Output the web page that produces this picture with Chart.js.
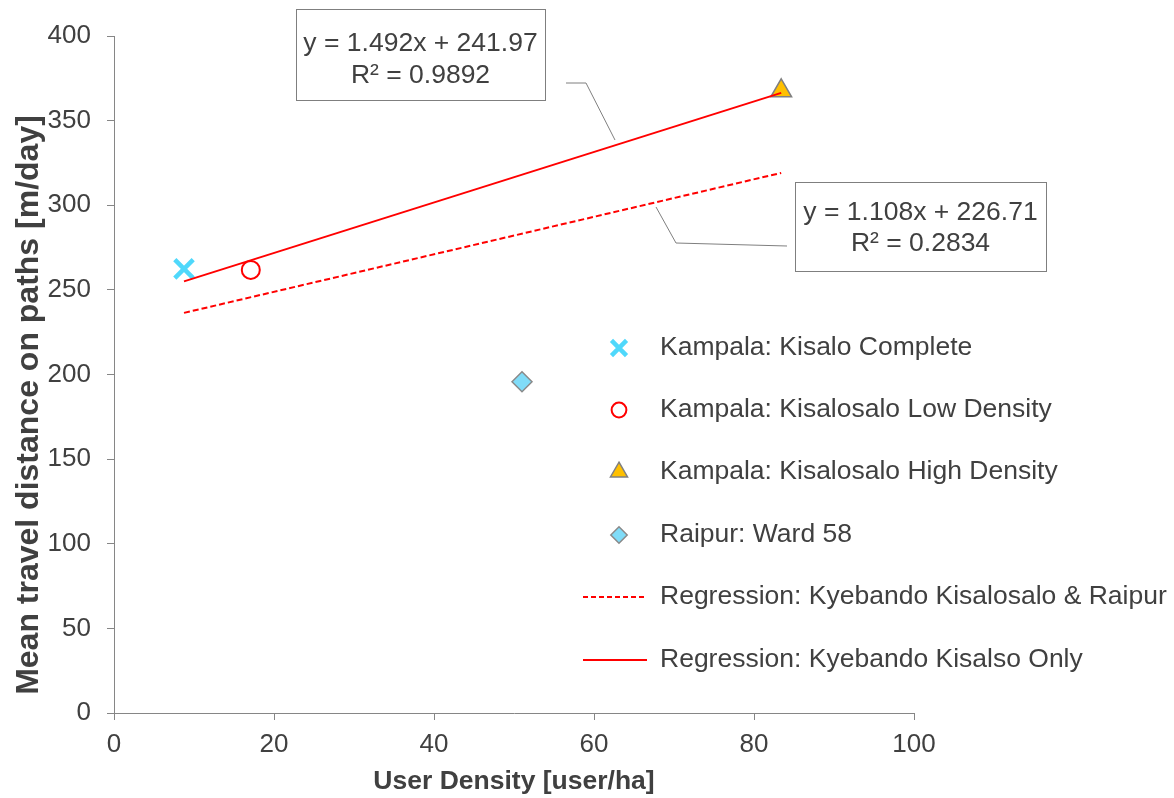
<!DOCTYPE html>
<html>
<head>
<meta charset="utf-8">
<script src="https://cdn.jsdelivr.net/npm/chart.js@4.4.1/dist/chart.umd.min.js"></script>
<style>
    html, body { margin: 0; padding: 0; background: #ffffff; }
    #wrap { width: 1174px; height: 798px; position: relative; }
</style>
</head>
<body>
<div id="wrap"><canvas id="densityChart"></canvas></div>
<script>
/* ================================
   Data
================================ */
const seriesNames = [
    "Kampala: Kisalo Complete",
    "Kampala: Kisalosalo Low Density",
    "Kampala: Kisalosalo High Density",
    "Raipur: Ward 58",
    "Regression: Kyebando Kisalosalo & Raipur",
    "Regression: Kyebando Kisalso Only"
];
const pointX = [8.75, 17.1, 83.4, 51.0];
const pointY = [262.4, 261.8, 367.6, 195.7];
const lineX = [8.75, 83.4];
const dashedY = [236.4, 319.1];
const solidY = [255.0, 366.4];
const xTicks = [0, 20, 40, 60, 80, 100];
const yTicks = [0, 50, 100, 150, 200, 250, 300, 350, 400];
const equationTexts = [
    ["y = 1.492x + 241.97", "R² = 0.9892"],
    ["y = 1.108x + 226.71", "R² = 0.2834"]
];
const yTitle = "Mean travel distance on paths [m/day]";
const xTitle = "User Density [user/ha]";

const TEXT = "#404040";
const AXIS = "#868686";
const FONT = "'Liberation Sans', Arial, sans-serif";

/* ================================
   Point / line styles
================================ */
const markerStyles = [
    { pointStyle: "crossRot", radius: 13, borderColor: "#4fd8fb", backgroundColor: "#4fd8fb", borderWidth: 4.5 },
    { pointStyle: "circle", radius: 9, borderColor: "#ff0000", backgroundColor: "rgba(255,255,255,0)", borderWidth: 2 },
    { pointStyle: "triangle", radius: 12, borderColor: "#808080", backgroundColor: "#ffc000", borderWidth: 1.5 },
    { pointStyle: "rectRot", radius: 10, borderColor: "#8a8a8a", backgroundColor: "#80dcf8", borderWidth: 1.5 }
];

function pointDataset(i) {
    const s = markerStyles[i];
    return {
        label: seriesNames[i],
        data: [{ x: pointX[i], y: pointY[i] }],
        pointStyle: s.pointStyle,
        pointRadius: s.radius,
        pointBorderColor: s.borderColor,
        pointBackgroundColor: s.backgroundColor,
        pointBorderWidth: s.borderWidth,
        showLine: false,
        order: 1
    };
}

function lineDataset(i, ys, dash) {
    return {
        label: seriesNames[i],
        data: lineX.map(function (x, k) { return { x: x, y: ys[k] }; }),
        showLine: true,
        borderColor: "#ff0000",
        borderWidth: 2,
        borderDash: dash,
        pointRadius: 0,
        fill: false,
        order: 0
    };
}

/* ================================
   Legend drawn at the right side
================================ */
const sideLegend = {
    id: "sideLegend",
    afterDraw: function (chart) {
        const ctx = chart.ctx;
        const rowY = [348, 410, 472, 535, 597, 660];
        ctx.save();
        for (let i = 0; i < seriesNames.length; i++) {
            const y = rowY[i];
            if (i < 4) {
                const s = markerStyles[i];
                ctx.fillStyle = s.backgroundColor;
                ctx.strokeStyle = s.borderColor;
                ctx.lineWidth = s.borderWidth;
                Chart.helpers.drawPoint(ctx, {
                    pointStyle: s.pointStyle,
                    radius: s.radius * 0.82,
                    borderWidth: s.borderWidth,
                    rotation: 0
                }, 619, y);
            } else {
                ctx.strokeStyle = "#ff0000";
                ctx.lineWidth = 2;
                ctx.setLineDash(i === 4 ? [5, 3] : []);
                ctx.beginPath();
                ctx.moveTo(583, y);
                ctx.lineTo(647, y);
                ctx.stroke();
                ctx.setLineDash([]);
            }
            ctx.fillStyle = TEXT;
            ctx.font = "26.5px " + FONT;
            ctx.textAlign = "left";
            ctx.textBaseline = "middle";
            ctx.fillText(seriesNames[i], 660, y);
        }
        ctx.restore();
    }
};

/* ================================
   Trendline equation boxes
================================ */
const equationBoxes = {
    id: "equationBoxes",
    afterDraw: function (chart) {
        const ctx = chart.ctx;
        const boxes = [
            { x: 296, y: 9, w: 249, h: 91, rows: [44, 76], leader: [[566, 83], [586, 83], [615, 140]] },
            { x: 795, y: 182, w: 251, h: 89, rows: [213, 244], leader: [[656, 207], [676, 243], [787, 246]] }
        ];
        ctx.save();
        boxes.forEach(function (b, i) {
            ctx.strokeStyle = "#7f7f7f";
            ctx.lineWidth = 1;
            ctx.beginPath();
            ctx.moveTo(b.leader[0][0], b.leader[0][1]);
            for (let k = 1; k < b.leader.length; k++) {
                ctx.lineTo(b.leader[k][0], b.leader[k][1]);
            }
            ctx.stroke();

            ctx.fillStyle = "#ffffff";
            ctx.fillRect(b.x, b.y, b.w, b.h);
            ctx.strokeRect(b.x + 0.5, b.y + 0.5, b.w, b.h);

            ctx.fillStyle = TEXT;
            ctx.font = "26.5px " + FONT;
            ctx.textAlign = "center";
            ctx.textBaseline = "middle";
            const cx = b.x + b.w / 2;
            ctx.fillText(equationTexts[i][0], cx, b.rows[0]);
            ctx.fillText(equationTexts[i][1], cx, b.rows[1]);
        });
        ctx.restore();
    }
};

/* ================================
   Y axis title (larger, set lower)
================================ */
const yAxisTitle = {
    id: "yAxisTitle",
    afterDraw: function (chart) {
        const ctx = chart.ctx;
        ctx.save();
        ctx.translate(38, 405);
        ctx.rotate(-Math.PI / 2);
        ctx.fillStyle = TEXT;
        ctx.font = "bold 32px " + FONT;
        ctx.textAlign = "center";
        ctx.textBaseline = "alphabetic";
        ctx.fillText(yTitle, 0, 0);
        ctx.restore();
    }
};

/* ================================
   Chart
================================ */
const ctx = document.getElementById("densityChart").getContext("2d");
new Chart(ctx, {
    type: "scatter",
    data: {
        datasets: [
            pointDataset(0),
            pointDataset(1),
            pointDataset(2),
            pointDataset(3),
            lineDataset(4, dashedY, [6, 3]),
            lineDataset(5, solidY, [])
        ]
    },
    options: {
        responsive: true,
        maintainAspectRatio: false,
        animation: false,
        layout: {
            padding: { left: 0, right: 260, top: 36, bottom: 0 }
        },
        plugins: {
            legend: { display: false },
            tooltip: { enabled: false }
        },
        scales: {
            x: {
                type: "linear",
                min: 0,
                max: 100,
                afterBuildTicks: function (scale) {
                    scale.ticks = xTicks.map(function (v) { return { value: v }; });
                },
                ticks: { color: TEXT, font: { family: FONT, size: 26 }, padding: 9 },
                grid: { drawOnChartArea: false, tickLength: 7, tickColor: AXIS, tickWidth: 1 },
                border: { color: AXIS, width: 1 },
                title: {
                    display: true,
                    text: xTitle,
                    color: TEXT,
                    font: { family: FONT, size: 26.5, weight: "bold" },
                    padding: { top: 0, bottom: 0 }
                },
                afterFit: function (scale) { scale.height = 85; }
            },
            y: {
                type: "linear",
                min: 0,
                max: 400,
                afterBuildTicks: function (scale) {
                    scale.ticks = yTicks.map(function (v) { return { value: v }; });
                },
                ticks: { color: TEXT, font: { family: FONT, size: 26 }, padding: 16 },
                grid: { drawOnChartArea: false, tickLength: 7, tickColor: AXIS, tickWidth: 1 },
                border: { color: AXIS, width: 1 },
                title: { display: false },
                afterFit: function (scale) { scale.width = 114; }
            }
        }
    },
    plugins: [sideLegend, equationBoxes, yAxisTitle]
});
</script>
</body>
</html>
